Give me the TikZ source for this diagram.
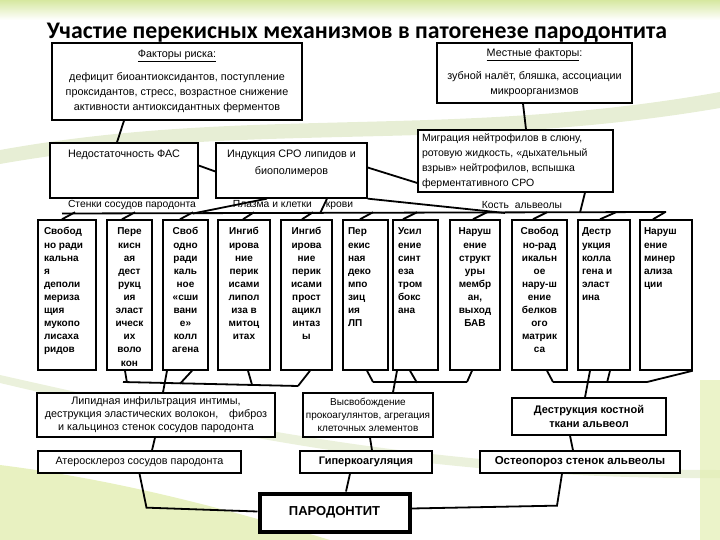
\documentclass[tikz,border=0pt]{standalone}
\usepackage{fontspec}
\setmainfont{Liberation Sans}
\newfontfamily\titlefont{Carlito}
\definecolor{bgA}{RGB}{214,232,160}
\definecolor{bgB}{RGB}{175,200,115}
\definecolor{bgC}{RGB}{226,238,178}
\tikzset{
  frame/.style={draw, line width=1.3pt, fill=white, align=center, inner sep=0pt},
  col/.style={draw, line width=1.5pt, fill=white, inner sep=0pt, minimum height=150pt,
    font=\bfseries\fontsize{10}{13.1}\selectfont},
  link/.style={line width=1.8pt},
  lbl/.style={inner sep=0pt, font=\fontsize{10.3}{12}\selectfont},
}
\newcommand{\colc}[2]{\parbox[c][144pt][t]{#1}{\centering\rule{0pt}{12pt}#2}}
\newcommand{\coll}[2]{\parbox[c][144pt][t]{#1}{\raggedright\rule{0pt}{12pt}#2}}
\begin{document}
\begin{tikzpicture}[x=1pt,y=-1pt]
\useasboundingbox (0,0) rectangle (720,540);
% background
\shade[top color=bgA, bottom color=white] (0,0) rectangle (720,20);
\fill[bgB, opacity=0.3] (0,150) .. controls (250,105) and (450,140) .. (720,92) -- (720,108) .. controls (450,154) and (250,120) .. (0,164) -- cycle;
\fill[bgC, opacity=0.8] (0,465) .. controls (120,480) and (230,510) .. (330,540) -- (0,540) -- cycle;
\fill[bgB, opacity=0.25] (0,375) .. controls (200,420) and (420,470) .. (720,470) -- (720,478) .. controls (420,480) and (200,430) .. (0,383) -- cycle;
\fill[bgC, opacity=0.7] (700,380) rectangle (720,540);

\node[font=\titlefont\bfseries\fontsize{23.8}{28}\selectfont] (title) at (357,33) {Участие перекисных механизмов в патогенезе пародонтита};

% factors
\node[frame, minimum width=250pt, minimum height=77pt, font=\fontsize{10.8}{15}\selectfont] (risk) at (177,81.5)
  {\underline{Факторы риска:}\\[8pt] дефицит биоантиоксидантов, поступление\\ проксидантов, стресс, возрастное снижение\\ активности антиоксидантных ферментов};
\node[frame, minimum width=195pt, minimum height=60pt, font=\fontsize{10.8}{15}\selectfont] (local) at (534.5,73)
  {\underline{Местные факторы}:\\[8pt] зубной налёт, бляшка, ассоциации\\ микроорганизмов};
\node[frame, minimum width=148pt, minimum height=55pt, font=\fontsize{10.8}{16}\selectfont] (fas) at (124,170.5)
  {\parbox[c][51pt][t]{140pt}{\centering\rule{0pt}{13pt}Недостаточность ФАС}};
\node[frame, minimum width=151pt, minimum height=55pt, font=\fontsize{10.8}{17}\selectfont] (sro) at (291.5,170.5)
  {\parbox[c][51pt][t]{147pt}{\centering\rule{0pt}{13pt}Индукция СРО липидов и\\ биополимеров}};
\node[frame, minimum width=195pt, minimum height=62pt, font=\fontsize{10.5}{15}\selectfont] (migr) at (515.5,161)
  {\parbox{187pt}{\raggedright Миграция нейтрофилов в слюну,\\ ротовую жидкость, «дыхательный\\ взрыв» нейтрофилов, вспышка\\ ферментативного СРО}};

\node[lbl] (vess) at (132,205) {Стенки сосудов пародонта};
\node[lbl] (blood) at (293,205) {Плазма и клетки\hspace{14pt}крови};
\node[lbl] (bonelbl) at (522,205) {Кость\hspace{6pt}альвеолы};

% columns
\node[col, minimum width=58pt] (c1) at (67,295) {\coll{46pt}{Свобод\\но ради\\кальна\\я\\деполи\\мериза\\щия\\мукопо\\лисаха\\ридов}};
\node[col, minimum width=45pt] (c2) at (129.5,295) {\colc{43pt}{Пере\\кисн\\ая\\дест\\рукц\\ия\\эласт\\ическ\\их\\воло\\кон}};
\node[col, minimum width=45pt] (c3) at (185.5,295) {\colc{43pt}{Своб\\одно\\ради\\каль\\ное\\«сши\\вани\\е»\\колл\\агена}};
\node[col, minimum width=52pt] (c4) at (244,295) {\colc{50pt}{Ингиб\\ирова\\ние\\перик\\исами\\липол\\иза в\\митоц\\итах}};
\node[col, minimum width=51pt] (c5) at (306.5,295) {\colc{49pt}{Ингиб\\ирова\\ние\\перик\\исами\\прост\\ацикл\\интаз\\ы}};
\node[col, minimum width=45pt] (c6) at (365.5,295) {\coll{35pt}{Пер\\екис\\ная\\деко\\мпо\\зиц\\ия\\ЛП}};
\node[col, minimum width=45pt] (c7) at (415.5,295) {\coll{35pt}{Усил\\ение\\синт\\еза\\тром\\бокс\\ана}};
\node[col, minimum width=50pt] (c8) at (475,295) {\colc{48pt}{Наруш\\ение\\структ\\уры\\мембр\\ан,\\выход\\БАВ}};
\node[col, minimum width=55pt] (c9) at (539.5,295) {\colc{53pt}{Свобод\\но-рад\\икальн\\ое\\нару-ш\\ение\\белков\\ого\\матрик\\са}};
\node[col, minimum width=52pt] (c10) at (604,295) {\coll{44pt}{Дестр\\укция\\колла\\гена и\\эласт\\ина}};
\node[col, minimum width=52pt] (c11) at (666,295) {\coll{44pt}{Наруш\\ение\\минер\\ализа\\ции}};

% results
\node[frame, minimum width=238pt, minimum height=44pt, font=\fontsize{10.8}{13}\selectfont] (lipid) at (156,415)
  {Липидная инфильтрация интимы,\\ деструкция эластических волокон,\quad фиброз\\ и кальциноз стенок сосудов пародонта};
\node[frame, minimum width=130pt, minimum height=44pt, font=\fontsize{10}{13}\selectfont] (rel) at (368,415)
  {Высвобождение\\ прокоагулянтов, агрегация\\ клеточных элементов};
\node[frame, minimum width=154pt, minimum height=37pt, font=\bfseries\fontsize{11}{14}\selectfont] (bone) at (589,416.5)
  {Деструкция костной\\ ткани альвеол};
\node[frame, minimum width=203pt, minimum height=22pt, font=\fontsize{10.8}{12}\selectfont] (ath) at (139.5,462) {Атеросклероз сосудов пародонта};
\node[frame, minimum width=132pt, minimum height=22pt, font=\bfseries\fontsize{11}{12}\selectfont] (hyp) at (366,462) {Гиперкоагуляция};
\node[frame, minimum width=200pt, minimum height=22pt, font=\bfseries\fontsize{11.5}{12}\selectfont] (osteo) at (580,462) {Остеопороз стенок альвеолы};
\node[frame, line width=4pt, minimum width=150pt, minimum height=38pt, font=\bfseries\fontsize{13}{14}\selectfont] (par) at (334.5,512.5) {ПАРОДОНТИТ};

% upper links
\draw[link] ([xshift=-53pt]risk.south) -- ([xshift=-7pt]fas.north);
\draw[link] ([xshift=-11.5pt]local.south) -- ([xshift=10.5pt]migr.north);
\draw[link] ([yshift=5pt]fas.east) -- ([yshift=-1pt]sro.west);
\draw[link] ([yshift=3pt]sro.east) -- ([yshift=-22pt]migr.west);

% bus
\coordinate (busL) at (62,213.5);
\coordinate (busR) at (666,212);
\coordinate (jA) at (193,213.5);
\coordinate (jB) at (320,213.5);
\coordinate (jC) at (505,213);
\coordinate (jD) at (580,212.5);
\draw[link] (busL) -- (busR);
\draw[link] ([xshift=-24.5pt]sro.south) -- (jA);
\draw[link] ([xshift=35.5pt]sro.south) -- (jB);
\draw[link] (sro.south east) -- (jC);
\draw[link] ([xshift=69.5pt]migr.south) -- (jD);
\draw[link] ([xshift=-5pt]c1.north) -- ++(13,-7);
\draw[link] ([xshift=-7.5pt]c2.north) -- ++(13,-7);
\draw[link] ([xshift=-5.5pt]c3.north) -- ++(13,-7);
\draw[link] ([xshift=-1pt]c4.north) -- ++(11,-7);
\draw[link] ([xshift=-4.5pt]c5.north) -- ++(11,-7);
\draw[link] ([xshift=-5.5pt]c6.north) -- ++(13,-7);
\draw[link] ([xshift=-12.5pt]c7.north) -- ++(14,-7);
\draw[link] ([xshift=-2pt]c8.north) -- ++(14,-7);
\draw[link] ([xshift=-6.5pt]c9.north) -- ++(14,-7);
\draw[link] ([xshift=-4pt]c10.north) -- ++(16,-7);
\draw[link] ([xshift=-13pt]c11.north) -- ++(12,-7);

% lower links
\coordinate (g1L) at (123,382);
\coordinate (g1R) at (298,386);
\coordinate (g2L) at (373,382);
\coordinate (g2R) at (467,382);
\coordinate (g3L) at (553,382);
\coordinate (g3R) at (647,382);
\draw[link] (g1L) -- (g1R);
\draw[link] (g2L) -- (g2R);
\draw[link] (g3L) -- (g3R);
\draw[link] ([xshift=-4.5pt]c2.south) -- ++(2,12);
\draw[link] ([xshift=-18.5pt]c3.south) -- ([xshift=7pt]lipid.north);
\draw[link] ([xshift=6.5pt]c3.south) -- ++(-12,13);
\draw[link] ([xshift=4pt]c4.south) -- ++(4,14);
\draw[link] ([xshift=3.5pt]c5.south) -- (g1R);
\draw[link] ([xshift=1.5pt]c6.south) -- (g2L);
\draw[link] ([xshift=-18.5pt]c7.south) -- ([xshift=25pt]rel.north);
\draw[link] ([xshift=-5.5pt]c7.south) -- ++(7,12);
\draw[link] ([xshift=-3pt]c8.south) -- (g2R);
\draw[link] ([xshift=7.5pt]c9.south) -- (g3L);
\draw[link] ([xshift=-14pt]c10.south) -- ([xshift=-4pt]bone.north);
\draw[link] ([xshift=6pt]c10.south) -- ++(-3,12);
\draw[link] (c11.south east) -- (g3R);

% bottom links
\draw[link] ([xshift=-1pt]lipid.south) -- ([xshift=12.5pt]ath.north);
\draw[link] ([xshift=2pt]rel.south) -- ([xshift=6pt]hyp.north);
\draw[link] ([xshift=-19pt]bone.south) -- ([xshift=-7pt]osteo.north);
\draw[link] (ath.south) -- ++(7,34) -- ([yshift=1pt]par.west);
\draw[link] ([xshift=-16pt]hyp.south) -- ([xshift=11.5pt]par.north);
\draw[link] ([xshift=-18pt]osteo.south) -- ++(-5,32) -- ([yshift=4pt]par.east);
\end{tikzpicture}
\end{document}
